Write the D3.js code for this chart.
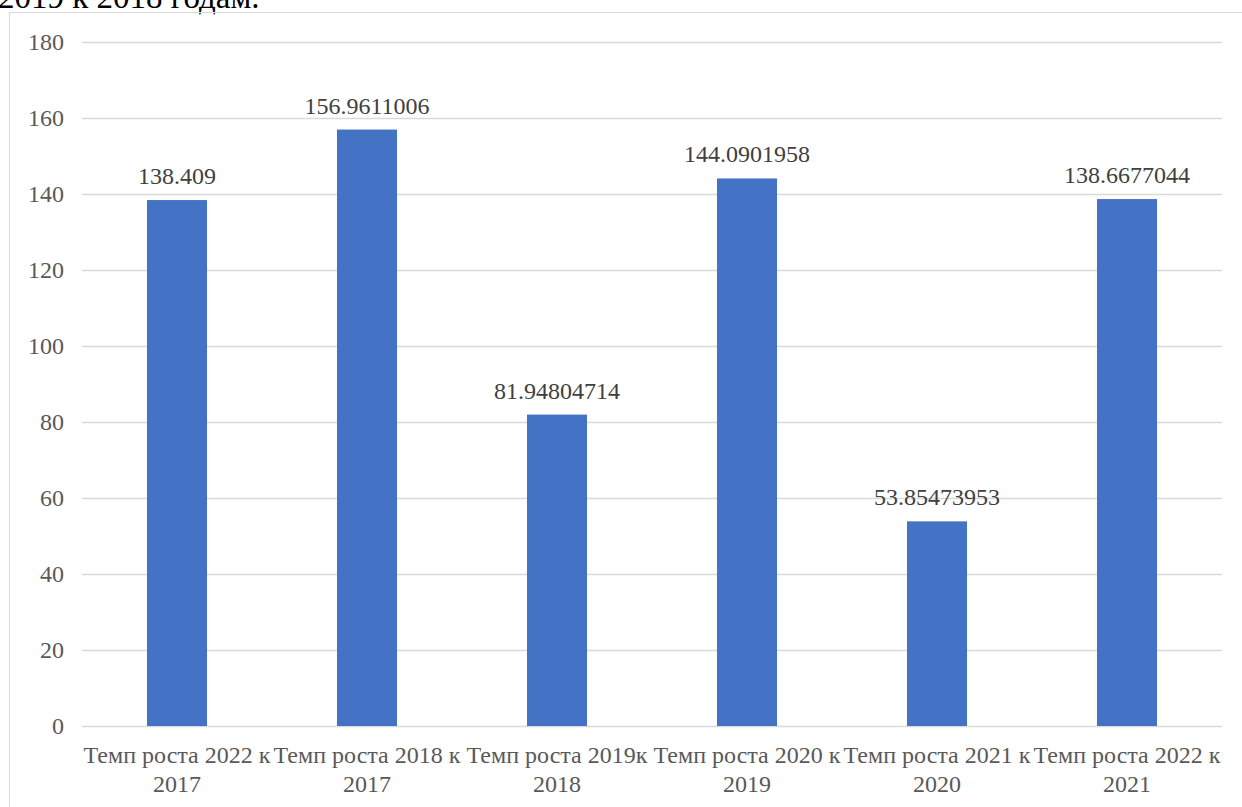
<!DOCTYPE html>
<html><head><meta charset="utf-8">
<script src="https://cdn.jsdelivr.net/npm/d3@7"></script>
<style>body{margin:0;background:#fff}svg{display:block}
svg text{font-family:"Liberation Serif","Times New Roman","DejaVu Serif",serif}</style>
</head><body>
<svg id="c" width="1242" height="807"></svg>
<script>
const categories = [
  ["Темп роста 2022 к", "2017"],
  ["Темп роста 2018 к", "2017"],
  ["Темп роста 2019к", "2018"],
  ["Темп роста 2020 к", "2019"],
  ["Темп роста 2021 к", "2020"],
  ["Темп роста 2022 к", "2021"]
];
const values = [138.409, 156.9611006, 81.94804714, 144.0901958, 53.85473953, 138.6677044];
const valueLabels = ["138.409", "156.9611006", "81.94804714", "144.0901958", "53.85473953", "138.6677044"];
const yTicks = [0, 20, 40, 60, 80, 100, 120, 140, 160, 180];

const svg = d3.select("#c");
const font = '"Liberation Serif","Times New Roman","DejaVu Serif",serif';

// caption fragment (cut off at the top edge, as in the source image)
svg.append("text").attr("x", -2).attr("y", 8).style("font-family", font).attr("font-size", 33)
  .attr("fill", "#000").text("2019 к 2018 годам.");

// border
svg.append("rect").attr("x", 9.5).attr("y", 12.5).attr("width", 1300).attr("height", 900)
  .attr("fill", "none").attr("stroke", "#d9d9d9").attr("stroke-width", 1);

const x = d3.scaleBand().domain(d3.range(values.length)).range([82, 1222]).paddingInner(0.684).paddingOuter(0.342);
const y = d3.scaleLinear().domain([0, 180]).range([726, 42]);

const yAxis = d3.axisLeft(y).tickValues(yTicks).tickSize(-(1222 - 82)).tickPadding(18);
const gy = svg.append("g").attr("transform", "translate(82,0)").call(yAxis).attr("font-family", null);
gy.select(".domain").remove();
gy.selectAll(".tick line").attr("stroke", "#d9d9d9").attr("stroke-width", 1.5);
gy.selectAll(".tick text").style("font-family", font).attr("font-size", 24).attr("fill", "#595959");

svg.append("g").selectAll("rect").data(values).join("rect")
  .attr("x", (d, i) => x(i)).attr("width", x.bandwidth())
  .attr("y", d => y(d)).attr("height", d => y(0) - y(d))
  .attr("fill", "#4472c4");

svg.append("g").selectAll("text").data(values).join("text")
  .attr("x", (d, i) => x(i) + x.bandwidth() / 2).attr("y", d => y(d) - 16)
  .attr("text-anchor", "middle").style("font-family", font).attr("font-size", 24).attr("fill", "#404040")
  .text((d, i) => valueLabels[i]);

const gx = svg.append("g").selectAll("text").data(categories).join("text")
  .attr("text-anchor", "middle").style("font-family", font).attr("font-size", 24).attr("fill", "#595959");
gx.each(function(d, i) {
  const cx = x(i) + x.bandwidth() / 2;
  d3.select(this).selectAll("tspan").data(d).join("tspan")
    .attr("x", cx).attr("y", (t, j) => 763 + j * 29).text(t => t);
});
</script>
</body></html>
